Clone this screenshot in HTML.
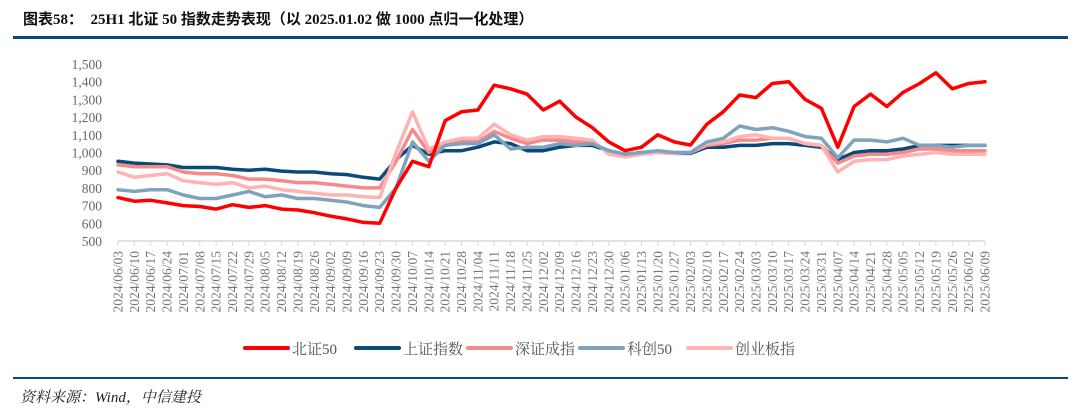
<!DOCTYPE html>
<html><head><meta charset="utf-8">
<style>
html,body{margin:0;padding:0;background:#fff;}
body{width:1080px;height:415px;position:relative;overflow:hidden;font-family:"Liberation Serif","Noto Serif CJK SC",serif;}
#title{position:absolute;left:23px;top:8px;font-size:15px;font-weight:bold;color:#111;white-space:nowrap;font-family:"Liberation Serif","Noto Sans CJK SC",sans-serif;}
.rule{position:absolute;left:13px;width:1055px;background:#0b4a78;}
#source{position:absolute;left:20px;top:386px;font-size:15px;font-style:italic;color:#222;font-family:"Liberation Serif","Noto Serif CJK SC",serif;}
svg{position:absolute;left:0;top:0;}
</style></head><body>
<div id="title">图表58：&nbsp;&nbsp;25H1 北证 50 指数走势表现（以 2025.01.02 做 1000 点归一化处理）</div>
<div class="rule" style="top:36px;height:3px"></div>
<svg id="chart" width="1080" height="415"></svg>
<div class="rule" style="top:377px;height:2px"></div>
<div id="source">资料来源：Wind，中信建投</div>
<script>
const dates=["2024/06/03","2024/06/10","2024/06/17","2024/06/24","2024/07/01","2024/07/08","2024/07/15","2024/07/22","2024/07/29","2024/08/05","2024/08/12","2024/08/19","2024/08/26","2024/09/02","2024/09/09","2024/09/16","2024/09/23","2024/09/30","2024/10/07","2024/10/14","2024/10/21","2024/10/28","2024/11/04","2024/11/11","2024/11/18","2024/11/25","2024/12/02","2024/12/09","2024/12/16","2024/12/23","2024/12/30","2025/01/06","2025/01/13","2025/01/20","2025/01/27","2025/02/03","2025/02/10","2025/02/17","2025/02/24","2025/03/03","2025/03/10","2025/03/17","2025/03/24","2025/03/31","2025/04/07","2025/04/14","2025/04/21","2025/04/28","2025/05/05","2025/05/12","2025/05/19","2025/05/26","2025/06/02","2025/06/09"];
const yTicks=[500,600,700,800,900,1000,1100,1200,1300,1400,1500];
const bz50=[745,725,730,715,700,695,680,705,690,700,680,675,660,640,625,605,600,800,950,920,1180,1230,1240,1380,1360,1330,1240,1290,1200,1140,1060,1010,1030,1100,1060,1042,1160,1230,1325,1310,1390,1400,1300,1250,1030,1260,1330,1260,1340,1390,1450,1360,1390,1400];
const szzs=[950,940,935,930,915,915,915,905,900,905,895,890,890,880,875,860,850,960,1040,990,1010,1010,1030,1060,1050,1010,1010,1030,1040,1040,1010,990,1000,1000,995,995,1030,1030,1040,1040,1050,1050,1040,1030,960,1000,1010,1010,1020,1040,1040,1040,1040,1040];
const szcz=[930,920,920,920,890,880,880,870,850,850,840,830,830,820,810,800,800,950,1130,1000,1050,1070,1060,1120,1080,1050,1070,1070,1060,1060,1000,990,1000,1000,1000,1000,1040,1050,1070,1070,1080,1080,1050,1040,940,980,990,990,1000,1020,1020,1010,1010,1010];
const kc50=[790,780,790,790,760,740,740,760,780,750,760,740,740,730,720,700,690,800,1060,950,1040,1050,1050,1100,1020,1030,1030,1050,1040,1050,1010,990,1000,1010,1000,1000,1060,1080,1150,1130,1140,1120,1090,1080,970,1070,1070,1060,1080,1040,1040,1030,1040,1040];
const cybz=[890,860,870,880,840,830,820,830,800,810,790,780,770,760,760,750,745,1000,1230,1020,1060,1080,1080,1160,1100,1070,1090,1090,1080,1070,990,975,990,1000,995,1000,1050,1060,1090,1100,1080,1080,1050,1040,890,950,960,960,980,990,1000,990,990,990];
const seriesNames=["北证50","上证指数","深证成指","科创50","创业板指"];
const seriesData=[bz50,szzs,szcz,kc50,cybz];
const colors=["#ff0000","#0b4a78","#f58a8a","#7fa3bd","#ffb3b3"];
const drawOrder=[1,2,4,3,0];

const NS="http://www.w3.org/2000/svg";
const svg=document.getElementById('chart');
const X0=118,X1=985,Y0=241,Y1=64;
function xs(i){return X0+(X1-X0)*i/(dates.length-1);}
function ys(v){return Y0-(v-500)/(1500-500)*(Y0-Y1);}
function mk(t,a){const e=document.createElementNS(NS,t);for(const k in a)e.setAttribute(k,a[k]);svg.appendChild(e);return e;}

yTicks.forEach(v=>{
  const t=mk('text',{x:102,y:ys(v)+5,'text-anchor':'end','font-size':'13.5','fill':'#666','font-family':'"Liberation Serif",serif'});
  t.textContent=v.toLocaleString('en-US');
  
  
});
const ax=mk('line',{x1:X0,y1:Y0,x2:X1,y2:Y0,stroke:'#d9d9d9','stroke-width':1.5});


dates.forEach((d,i)=>{
  const x=xs(i);
  const tk=mk('line',{x1:x,y1:Y0,x2:x,y2:Y0+5,stroke:'#d9d9d9','stroke-width':1});
  
  
  const t=mk('text',{x:0,y:0,'text-anchor':'end','font-size':'13.5','fill':'#777','font-family':'"Liberation Serif",serif',transform:`translate(${x+4.5},251) rotate(-90)`});
  t.textContent=d;
  
  
});
drawOrder.forEach(s=>{
  const pts=seriesData[s].map((v,i)=>xs(i).toFixed(1)+','+ys(v).toFixed(1)).join(' ');
  const p=mk('polyline',{points:pts,fill:'none',stroke:colors[s],'stroke-width':3.5,'stroke-linejoin':'round','stroke-linecap':'round'});
  
  
});
const legX=[245,356,468,580,688];
seriesNames.forEach((n,s)=>{
  const l=mk('line',{x1:legX[s],y1:348,x2:legX[s]+43,y2:348,stroke:colors[s],'stroke-width':4,'stroke-linecap':'round'});
  
  
  const t=mk('text',{x:legX[s]+47,y:354,'font-size':'15','fill':'#555','font-family':'"Liberation Serif","Noto Serif CJK SC",serif'});
  t.textContent=n;
  
  
});
</script>
</body></html>
